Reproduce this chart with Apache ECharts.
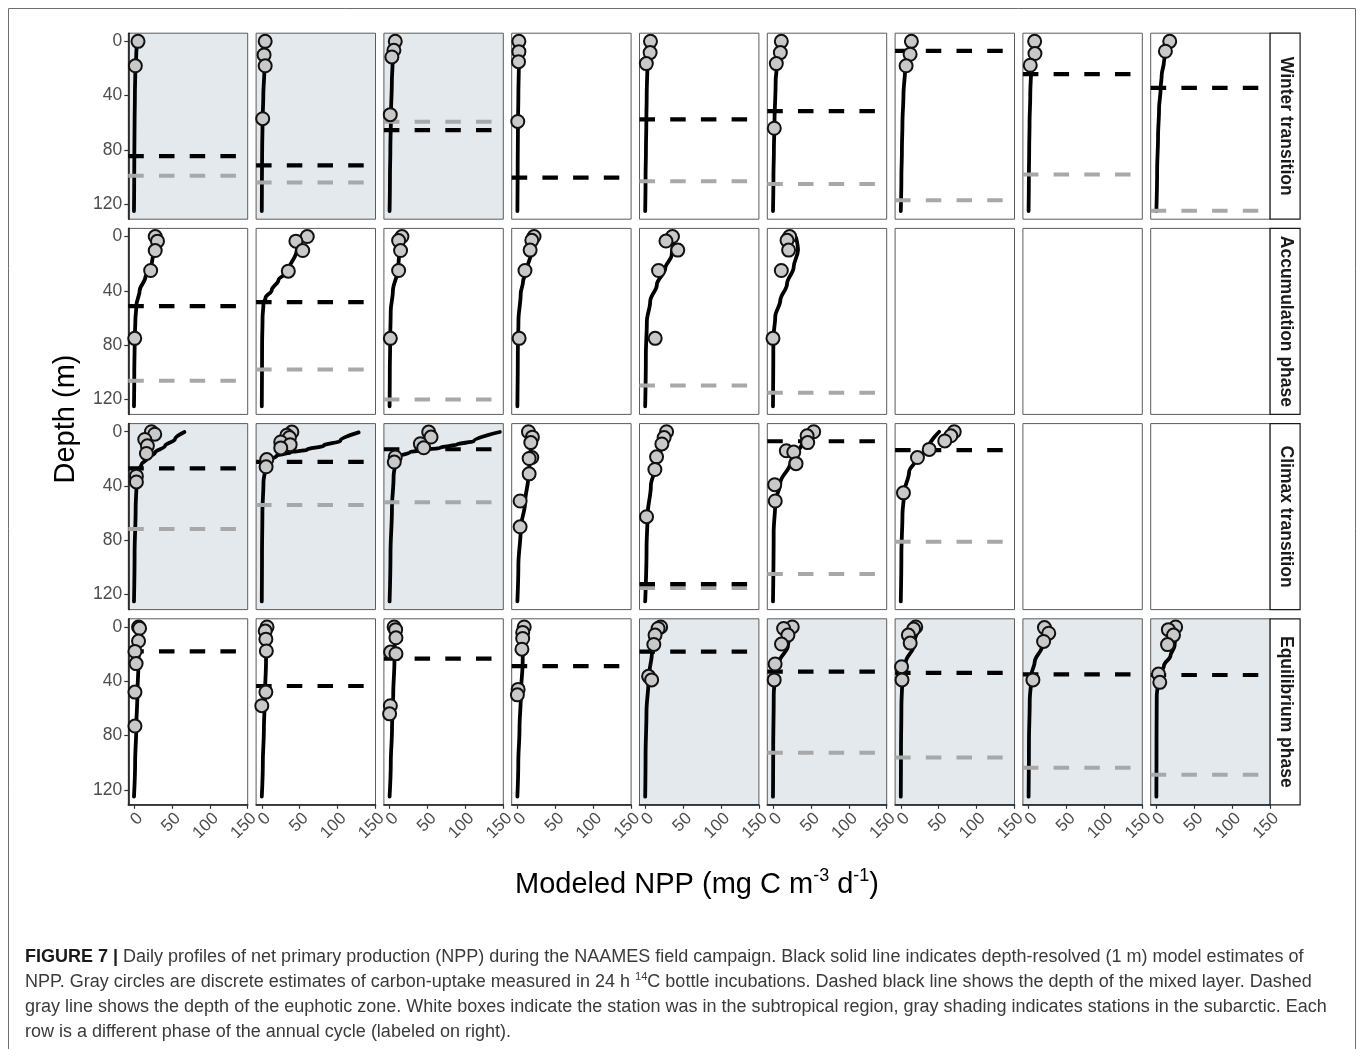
<!DOCTYPE html>
<html><head><meta charset="utf-8">
<script src="https://cdn.jsdelivr.net/npm/echarts@6/dist/echarts.min.js"></script>
<style>html,body{margin:0;padding:0;background:#fff}#c{width:1358px;height:1049px}</style>
</head><body><div id="c"></div>
<script>
// ---------------- DATA ----------------
const phases = ['Winter transition', 'Accumulation phase', 'Climax transition', 'Equilibrium phase'];
const xTicks = [0, 50, 100, 150];
const yTicks = [0, 40, 80, 120];
// 1 = subarctic (gray shading), 0 = subtropical (white)
const subarctic = [
  [1,1,1,0,0,0,0,0,0],
  [0,0,0,0,0,0,0,0,0],
  [1,1,1,0,0,0,0,0,0],
  [0,0,0,0,1,1,1,1,1]
];
// mixed layer depth (m), dashed black
const mixedLayer = [
  [84.5, 91.3, 65.4, 100.4, 57.5, 51.4, 7, 24.2, 34.3],
  [51.2, 48.3, null, null, null, null, null, null, null],
  [27, 22.2, 12.9, null, 112.3, 7, 13.6, null, null],
  [18, 43.5, 23.4, 28.8, 18.2, 32.9, 33.9, 34.9, 35.4]
];
// euphotic zone depth (m), dashed gray
const euphoticZone = [
  [99, 104, 59.3, null, 103, 105, 117, 98, 124.7],
  [106.3, 98, 120, null, 109.8, 115, null, null, null],
  [71.6, 54, 52, null, 115, 104.7, 81, null, null],
  [null, null, null, null, null, 92.7, 96.1, 103.7, 108.9]
];
// modeled NPP profiles [NPP, depth]
const modelWinter = [
  [[4.5,0],[3,10],[1.8,20],[1.2,40],[0.8,60],[0.5,80],[0.3,100],[0,125]],
  [[5,0],[4.3,10],[3.5,20],[2,40],[1,60],[0.5,80],[0.2,100],[0,125]],
  [[8.5,0],[5.5,8],[4,15],[3,30],[1.8,55],[1,80],[0.5,100],[0,125]],
  [[2.5,0],[2,15],[1.3,40],[0.8,60],[0.4,90],[0,125]],
  [[7.2,0],[5,8],[3,16],[2,40],[1.5,60],[1,80],[0.5,100],[0,125]],
  [[11,0],[8,8],[5.3,16],[3.5,30],[2,60],[1.2,80],[0.6,100],[0,125]],
  [[14,0],[10,10],[6,18],[3.5,40],[2.2,60],[1.5,80],[0.8,100],[0,125]],
  [[8.2,0],[6,9],[3.5,18],[2.2,40],[1.3,60],[0.8,80],[0.4,100],[0,125]],
  [[16.5,0],[14,5],[10,15],[7,25],[5.7,34],[3.5,50],[2.2,70],[1,95],[0,125]]
];
const modelAccum = [
  [[27,0],[26,10],[23,22.5],[15,30],[7.5,39.7],[3.1,51],[1.8,62],[1,75],[0.4,100],[0,125]],
  [[57,0],[46,10.3],[35,25.5],[22,32],[13,39.7],[5,45],[2.2,49.5],[1,60],[0.4,80],[0,125]],
  [[17,0],[14,8],[12,18],[10.5,25],[4.4,40],[1.5,55],[0.8,76],[0.3,100],[0,125]],
  [[23.4,0],[19,10],[12.4,25],[7.5,33],[4.4,42],[1.4,62],[0.6,85],[0,125]],
  [[39.7,0],[35,13.5],[26.5,23.3],[15.4,35.5],[6.6,47.8],[2.2,62.5],[0.9,87],[0,125]],
  [[30.5,1],[33,10],[27.3,22.5],[18.5,35],[9.7,47],[3,59],[0.5,75],[0,125]],
  null, null, null
];
const modelClimax = [
  [[66.5,0.2],[54,5.5],[41,10.4],[27.8,15.3],[16.8,20.2],[10,23.9],[5.7,28.8],[3.5,36],[2.2,57],[0.8,90],[0,125]],
  [[127.8,0.5],[103.6,6.6],[81.5,10.3],[59.5,13.2],[37.4,15.2],[19.8,17.6],[8.8,21.3],[4.4,27.4],[2.2,37.2],[0.8,60],[0.3,90],[0,125]],
  [[145.5,0.2],[111,6.9],[89,9.3],[67,11.8],[45,13.5],[27.4,15],[14.2,17.9],[7.5,22.8],[5.3,32.6],[3.1,57],[1.2,90],[0,125]],
  [[20,0],[19.8,3],[17,18],[14.6,32.4],[10.2,52],[4.4,71.6],[1.3,98.5],[0,125]],
  [[29.6,0],[20.7,12.8],[14.1,25],[7.5,39.7],[3.1,61.7],[1.8,86],[0,125]],
  [[49.3,0],[38.3,8.3],[22.9,23],[9.7,37.6],[3,52.3],[0.9,74.3],[0,125]],
  [[50.7,0],[35.3,13],[22,19],[11,29.5],[4.4,45],[2.2,61],[0.8,90],[0,125]],
  null, null
];
const modelEquil = [
  [[7.4,0],[6,25],[4.5,50],[3.1,73],[1.5,100],[0,125]],
  [[7,0],[5.6,25],[4.2,50],[2.8,75],[1.4,100],[0,125]],
  [[8,0],[6.4,25],[4.8,50],[3.2,75],[1.6,100],[0,125]],
  [[9,0],[7,25],[4.6,50],[2.8,75],[1.2,100],[0,125]],
  [[24,0],[14.7,12.9],[9,18.2],[4.5,38.3],[1.7,62.8],[0.5,95],[0,125]],
  [[31,0],[19.7,13.8],[8.2,26],[2.8,33.4],[1,50.6],[0.3,90],[0,125]],
  [[25.4,0],[17,13.8],[6.6,26],[2.2,34.6],[0.8,60],[0.3,90],[0,125]],
  [[26.6,0],[18,13.8],[8,26],[4,34.6],[1.5,55],[0.5,85],[0,125]],
  [[29.9,0],[24,13.8],[18.6,21.2],[10,28.5],[4.5,35.9],[0.5,50],[0.2,80],[0,125]]
];
// 14C bottle incubations [NPP, depth]
const circlesWinter = [
  [[5.3,0],[1.8,18]],
  [[4.5,0],[3,10],[4.5,18],[1.2,57]],
  [[7.5,0],[5.7,6.6],[3,11.5],[0.9,54]],
  [[2,0],[2,7.6],[1.5,15],[0.5,59]],
  [[7,0],[6.5,8.3],[1.5,16.4]],
  [[11,0],[9.7,8.3],[4.4,16.4],[1.7,64]],
  [[14,0],[12.3,9.5],[7,18]],
  [[8,0],[8.4,9],[2.2,17.6]],
  [[17.6,0],[11.9,7.3]]
];
const circlesAccum = [
  [[28,0],[31,3.4],[28,10.3],[22,25],[1,75]],
  [[60,0],[45,3.4],[54,10.3],[35,25.5]],
  [[16.3,0],[11.9,3],[14.5,10.3],[11.9,25],[1,75]],
  [[22,0],[19,2.8],[16.8,10],[10,25],[2.3,75]],
  [[36,0],[27.4,3.3],[43,10],[17.6,25],[13.2,75]],
  [[22,0],[18.5,2.8],[20.6,10],[11,25],[0,75]],
  null, null, null
];
const circlesClimax = [
  [[23,0],[27.4,1.8],[14.2,5.7],[17.7,10.4],[16.4,16],[3.2,32.7],[3.2,37]],
  [[39.7,0.2],[33,2.6],[36.5,4.3],[25,7.5],[37.4,9.5],[25,11.9],[6.6,20.5],[5.7,25.8]],
  [[51.6,0.2],[54.7,3.9],[40.6,8.8],[45,11.8],[7.5,18.6],[6.2,22.3]],
  [[14.6,0],[19.8,4],[17.7,8],[19,19],[15.5,19.7],[15.5,31],[3.6,51],[3.6,70]],
  [[28.2,0],[25,4.3],[22,9],[15,18.5],[12.8,27.8],[1.8,62.6]],
  [[53.7,0],[45,3],[45.8,8],[17.6,14],[27.4,15],[30.4,23.5],[2.2,39],[3,51]],
  [[70.5,0],[66,3],[58,6.8],[37.5,13],[22,19],[3.5,45]],
  null, null
];
const circlesEquil = [
  [[6,0],[7.4,1],[6,10.4],[1.3,18],[2.8,27],[1.3,48],[1.3,73]],
  [[6.9,0],[4.5,3],[5.4,9],[6,17.7],[5.4,48],[0,58]],
  [[6,0],[8,2],[8.4,8],[1.3,18.5],[8.4,19.7],[1,58],[0,64]],
  [[9,0],[7,4],[7,8.5],[6,16.4],[1,46],[0,50]],
  [[20.4,0],[17,1.1],[13,6],[11.4,12.9],[4.5,36.4],[8.5,39]],
  [[25.4,0],[14,1.1],[19.7,6],[11.2,12.6],[2.8,27.3],[1.6,39]],
  [[19.7,0],[16.9,1.6],[10,6],[12.4,11.9],[1,29.3],[1.6,39]],
  [[20.9,0.5],[26.6,4.6],[19.8,10.7],[5.7,39]],
  [[25.4,0],[15.8,2],[22.6,6],[14.7,13],[2.8,34.7],[4.5,40.8]]
];
const captionLines = [
  '{b|FIGURE 7 |} Daily profiles of net primary production (NPP) during the NAAMES field campaign. Black solid line indicates depth-resolved (1 m) model estimates of',
  'NPP. Gray circles are discrete estimates of carbon-uptake measured in 24 h {s|14}C bottle incubations. Dashed black line shows the depth of the mixed layer. Dashed',
  'gray line shows the depth of the euphotic zone. White boxes indicate the station was in the subtropical region, gray shading indicates stations in the subarctic. Each',
  'row is a different phase of the annual cycle (labeled on right).'
];

// ---------------- LAYOUT ----------------
const FONT = '"Liberation Sans", Arial, Helvetica, sans-serif';
const PW = 119.4, PH = 186;
const colLeft = c => 128.3 + 127.8 * c;
const rowTop = r => 33.2 + 195.2 * r;
const SHADE = '#e3e9ed';
const X_MIN = -7.5, X_MAX = 150, Y_MIN = -6, Y_MAX = 131;

const modelRows = [modelWinter, modelAccum, modelClimax, modelEquil];
const circleRows = [circlesWinter, circlesAccum, circlesClimax, circlesEquil];

const grids = [], xAxes = [], yAxes = [], series = [];
for (let r = 0; r < 4; r++) {
  for (let c = 0; c < 9; c++) {
    const i = r * 9 + c;
    grids.push({
      left: colLeft(c), top: rowTop(r), width: PW, height: PH,
      show: true, backgroundColor: subarctic[r][c] ? SHADE : '#ffffff',
      borderColor: '#5c5c5c', borderWidth: 1
    });
    const bottomRow = r === 3, firstCol = c === 0;
    xAxes.push({
      gridIndex: i, type: 'value', min: X_MIN, max: X_MAX,
      splitLine: { show: false },
      axisLine: { show: bottomRow, onZero: false, lineStyle: { color: '#1a1a1a', width: 1.6 } },
      axisTick: { show: bottomRow, customValues: xTicks, length: 4, lineStyle: { color: '#333', width: 1.2 } },
      axisLabel: { show: bottomRow, customValues: xTicks, rotate: 45, margin: 5, fontSize: 17,
        align: 'right', verticalAlign: 'top', color: '#4d4d4d', fontFamily: FONT }
    });
    yAxes.push({
      gridIndex: i, type: 'value', inverse: true, min: Y_MIN, max: Y_MAX,
      splitLine: { show: false },
      axisLine: { show: firstCol, onZero: false, lineStyle: { color: '#1a1a1a', width: 1.6 } },
      axisTick: { show: firstCol, customValues: yTicks, length: 4, lineStyle: { color: '#333', width: 1.2 } },
      axisLabel: { show: firstCol, customValues: yTicks, margin: 6, fontSize: 17.5, color: '#4d4d4d', fontFamily: FONT }
    });
    const model = modelRows[r][c];
    if (model) {
      series.push({
        type: 'line', xAxisIndex: i, yAxisIndex: i, data: model,
        smooth: 0.35, smoothMonotone: 'y', symbol: 'none', silent: true, z: 2,
        lineStyle: { color: '#000', width: 3.8, cap: 'round' }
      });
    }
    const eu = euphoticZone[r][c];
    if (eu != null) {
      series.push({
        type: 'line', xAxisIndex: i, yAxisIndex: i, data: [[X_MIN, eu], [X_MAX, eu]],
        symbol: 'none', silent: true, z: 3,
        lineStyle: { color: '#a8a8a8', width: 4, type: [15.5, 15.2], cap: 'butt' }
      });
    }
    const ml = mixedLayer[r][c];
    if (ml != null) {
      series.push({
        type: 'line', xAxisIndex: i, yAxisIndex: i, data: [[X_MIN, ml], [X_MAX, ml]],
        symbol: 'none', silent: true, z: 3,
        lineStyle: { color: '#000', width: 4.2, type: [15.5, 15.2], cap: 'butt' }
      });
    }
    const pts = circleRows[r][c];
    if (pts) {
      series.push({
        type: 'scatter', xAxisIndex: i, yAxisIndex: i, data: pts,
        symbol: 'circle', symbolSize: 13, silent: true, z: 5,
        itemStyle: { color: '#c9c9c9', borderColor: '#111', borderWidth: 2, opacity: 1 }
      });
    }
  }
}

// caption font size fitted to the reference line width
const mctx = document.createElement('canvas').getContext('2d');
mctx.font = '100px "Liberation Sans"';
const capSize = Math.min(18, 100 * 1312 / mctx.measureText(captionLines[2]).width);

const graphics = [];
// outer frame
graphics.push({ type: 'line', shape: { x1: 8.5, y1: 8.5, x2: 8.5, y2: 1049 }, style: { stroke: '#6e6e6e', lineWidth: 1 } });
graphics.push({ type: 'line', shape: { x1: 1355.5, y1: 8.5, x2: 1355.5, y2: 1049 }, style: { stroke: '#6e6e6e', lineWidth: 1 } });
graphics.push({ type: 'line', shape: { x1: 8.5, y1: 8.5, x2: 1355.5, y2: 8.5 }, style: { stroke: '#6e6e6e', lineWidth: 1 } });
// facet strips
phases.forEach((p, r) => {
  graphics.push({ type: 'rect', shape: { x: colLeft(8) + PW, y: rowTop(r), width: 30, height: PH },
    style: { fill: '#fff', stroke: '#1a1a1a', lineWidth: 1.2 } });
  graphics.push({ type: 'text', x: colLeft(8) + PW + 15.5, y: rowTop(r) + PH / 2, rotation: -Math.PI / 2,
    style: { text: p, fontSize: 17.5, fontWeight: 'bold', fontFamily: FONT, fill: '#1a1a1a', align: 'center', verticalAlign: 'middle' } });
});
// axis titles
graphics.push({ type: 'text', x: 66, y: 419, rotation: Math.PI / 2,
  style: { text: 'Depth (m)', fontSize: 29, fontFamily: FONT, fill: '#000', align: 'center', verticalAlign: 'middle' } });
graphics.push({ type: 'text', x: 697, y: 885,
  style: { text: 'Modeled NPP (mg C m{s|-3} d{s|-1})', fontSize: 29, fontFamily: FONT, fill: '#000',
    align: 'center', verticalAlign: 'middle', lineHeight: 36,
    rich: { s: { fontSize: 18, fontFamily: FONT, fill: '#000', verticalAlign: 'top', lineHeight: 18 } } } });
// caption
captionLines.forEach((t, k) => {
  graphics.push({ type: 'text', x: 25, y: 957 + 25 * k,
    style: { text: t, fontSize: capSize, fontFamily: FONT, fill: '#3a3a3a', align: 'left', verticalAlign: 'middle',
      lineHeight: 22,
      rich: {
        b: { fontSize: capSize, fontFamily: FONT, fontWeight: 'bold', fill: '#1a1a1a', lineHeight: 22 },
        s: { fontSize: capSize * 0.62, fontFamily: FONT, fill: '#3a3a3a', verticalAlign: 'top', lineHeight: 10 }
      } } });
});

const chart = echarts.init(document.getElementById('c'), null, { renderer: 'canvas' });
chart.setOption({
  animation: false,
  backgroundColor: '#fff',
  textStyle: { fontFamily: FONT },
  grid: grids, xAxis: xAxes, yAxis: yAxes, series: series,
  graphic: { elements: graphics }
});
</script></body></html>
